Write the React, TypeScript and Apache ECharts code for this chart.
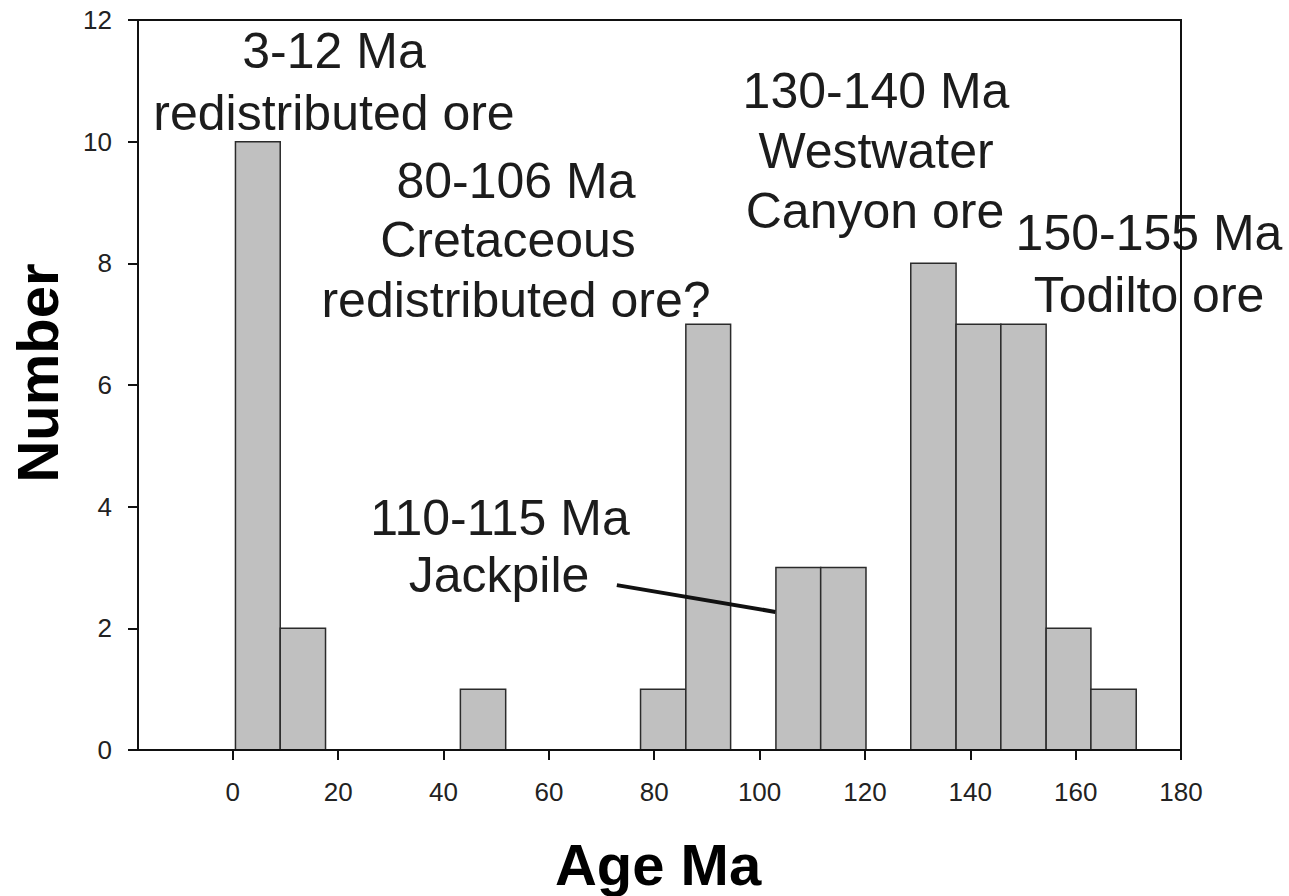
import React, { useEffect, useRef } from "react";
import * as echarts from "echarts";

// Histogram bins (Ma) and counts
const binStart = [0.5, 9.0, 43.2, 77.4, 86.0, 103.1, 111.6, 128.7, 137.3, 145.8, 154.4, 162.9];
const binEnd = [9.0, 17.6, 51.8, 86.0, 94.5, 111.6, 120.2, 137.3, 145.8, 154.4, 162.9, 171.5];
const counts = [10, 2, 1, 1, 7, 3, 3, 8, 7, 7, 2, 1];

const xTickValues = [0, 20, 40, 60, 80, 100, 120, 140, 160, 180];
const yTicks = [0, 2, 4, 6, 8, 10, 12];

// Pointer line for the Jackpile annotation (data coordinates)
const jackpilePointer = [
  [72.9, 2.71],
  [103.0, 2.27],
];

// Annotations: lines of text, center x, baseline y of each line (pixels)
const annotations = [
  { lines: ["3-12 Ma", "redistributed ore"], cx: [334, 334], base: [68, 130] },
  { lines: ["80-106 Ma", "Cretaceous", "redistributed ore?"], cx: [516, 508, 516], base: [198, 257, 317] },
  { lines: ["130-140 Ma", "Westwater", "Canyon ore"], cx: [876, 876, 875], base: [108, 168, 228] },
  { lines: ["150-155 Ma", "Todilto ore"], cx: [1149, 1149], base: [250, 312] },
  { lines: ["110-115 Ma", "Jackpile"], cx: [500, 499], base: [535, 592] },
];

const ANN_FONT = 50;
const TICK_FAMILY = "'Liberation Sans', Arial, sans-serif";

export default function App() {
  const ref = useRef<HTMLDivElement>(null);

  useEffect(() => {
    if (!ref.current) return;
    const chart = echarts.init(ref.current, null, { renderer: "svg" });

    const histData = binStart.map((s, i) => [s, binEnd[i], counts[i]]);

    const graphicEls: any[] = [];
    annotations.forEach((a) => {
      a.lines.forEach((t, i) => {
        graphicEls.push({
          type: "text",
          z: 1,
          x: a.cx[i],
          y: a.base[i] - ANN_FONT * 0.3465,
          style: {
            text: t,
            font: `${ANN_FONT}px 'Liberation Sans', Arial, sans-serif`,
            fill: "#1c1c1c",
            align: "center",
            verticalAlign: "middle",
            textAlign: "center",
            textVerticalAlign: "middle",
          },
        });
      });
    });
    graphicEls.push({
      type: "text",
      z: 1,
      x: 37,
      y: 373,
      rotation: Math.PI / 2,
      style: {
        text: "Number",
        font: "bold 58px 'Liberation Sans', Arial, sans-serif",
        fill: "#000",
        align: "center",
        verticalAlign: "middle",
        textAlign: "center",
        textVerticalAlign: "middle",
      },
    });
    graphicEls.push({
      type: "text",
      z: 1,
      x: 658,
      y: 864,
      style: {
        text: "Age Ma",
        font: "bold 58px 'Liberation Sans', Arial, sans-serif",
        fill: "#000",
        align: "center",
        verticalAlign: "middle",
        textAlign: "center",
        textVerticalAlign: "middle",
      },
    });

    chart.setOption({
      animation: false,
      backgroundColor: "#ffffff",
      grid: {
        show: true,
        z: 10,
        left: 138,
        right: 108,
        top: 20,
        bottom: 146,
        borderColor: "#111",
        borderWidth: 2,
        backgroundColor: "transparent",
      },
      xAxis: {
        type: "value",
        min: -18,
        max: 180,
        splitLine: { show: false },
        axisLine: { show: true, onZero: false, lineStyle: { color: "#111", width: 2 } },
        axisTick: {
          show: true,
          inside: false,
          length: 10,
          customValues: xTickValues,
          lineStyle: { color: "#111", width: 2 },
        },
        axisLabel: {
          show: true,
          customValues: xTickValues,
          margin: 29,
          fontSize: 26,
          fontFamily: TICK_FAMILY,
          color: "#222",
          showMinLabel: true,
          showMaxLabel: true,
        },
      },
      yAxis: {
        type: "value",
        min: 0,
        max: 12,
        interval: 2,
        splitLine: { show: false },
        axisLine: { show: true, onZero: false, lineStyle: { color: "#111", width: 2 } },
        axisTick: { show: true, inside: false, length: 10, lineStyle: { color: "#111", width: 2 } },
        axisLabel: {
          show: true,
          margin: 26,
          fontSize: 26,
          fontFamily: TICK_FAMILY,
          color: "#222",
          formatter: (v: number) => (yTicks.includes(v) ? String(v) : ""),
        },
      },
      series: [
        {
          type: "custom",
          z: 2,
          data: histData,
          encode: { x: [0, 1], y: 2 },
          renderItem: (params: any, api: any) => {
            const p0 = api.coord([api.value(0), 0]);
            const p1 = api.coord([api.value(1), api.value(2)]);
            return {
              type: "rect",
              shape: { x: p0[0], y: p1[1], width: p1[0] - p0[0], height: p0[1] - p1[1] },
              style: { fill: "#c0c0c0", stroke: "#2b2b2b", lineWidth: 1.5 },
            };
          },
        },
        {
          type: "line",
          z: 3,
          data: jackpilePointer,
          symbol: "none",
          silent: true,
          lineStyle: { color: "#111", width: 4 },
        },
      ],
      graphic: { elements: graphicEls },
    });

    return () => {
      chart.dispose();
    };
  }, []);

  return (
    <div
      ref={ref}
      style={{ position: "fixed", left: 0, top: 0, width: 1289, height: 896, background: "#fff" }}
    />
  );
}
